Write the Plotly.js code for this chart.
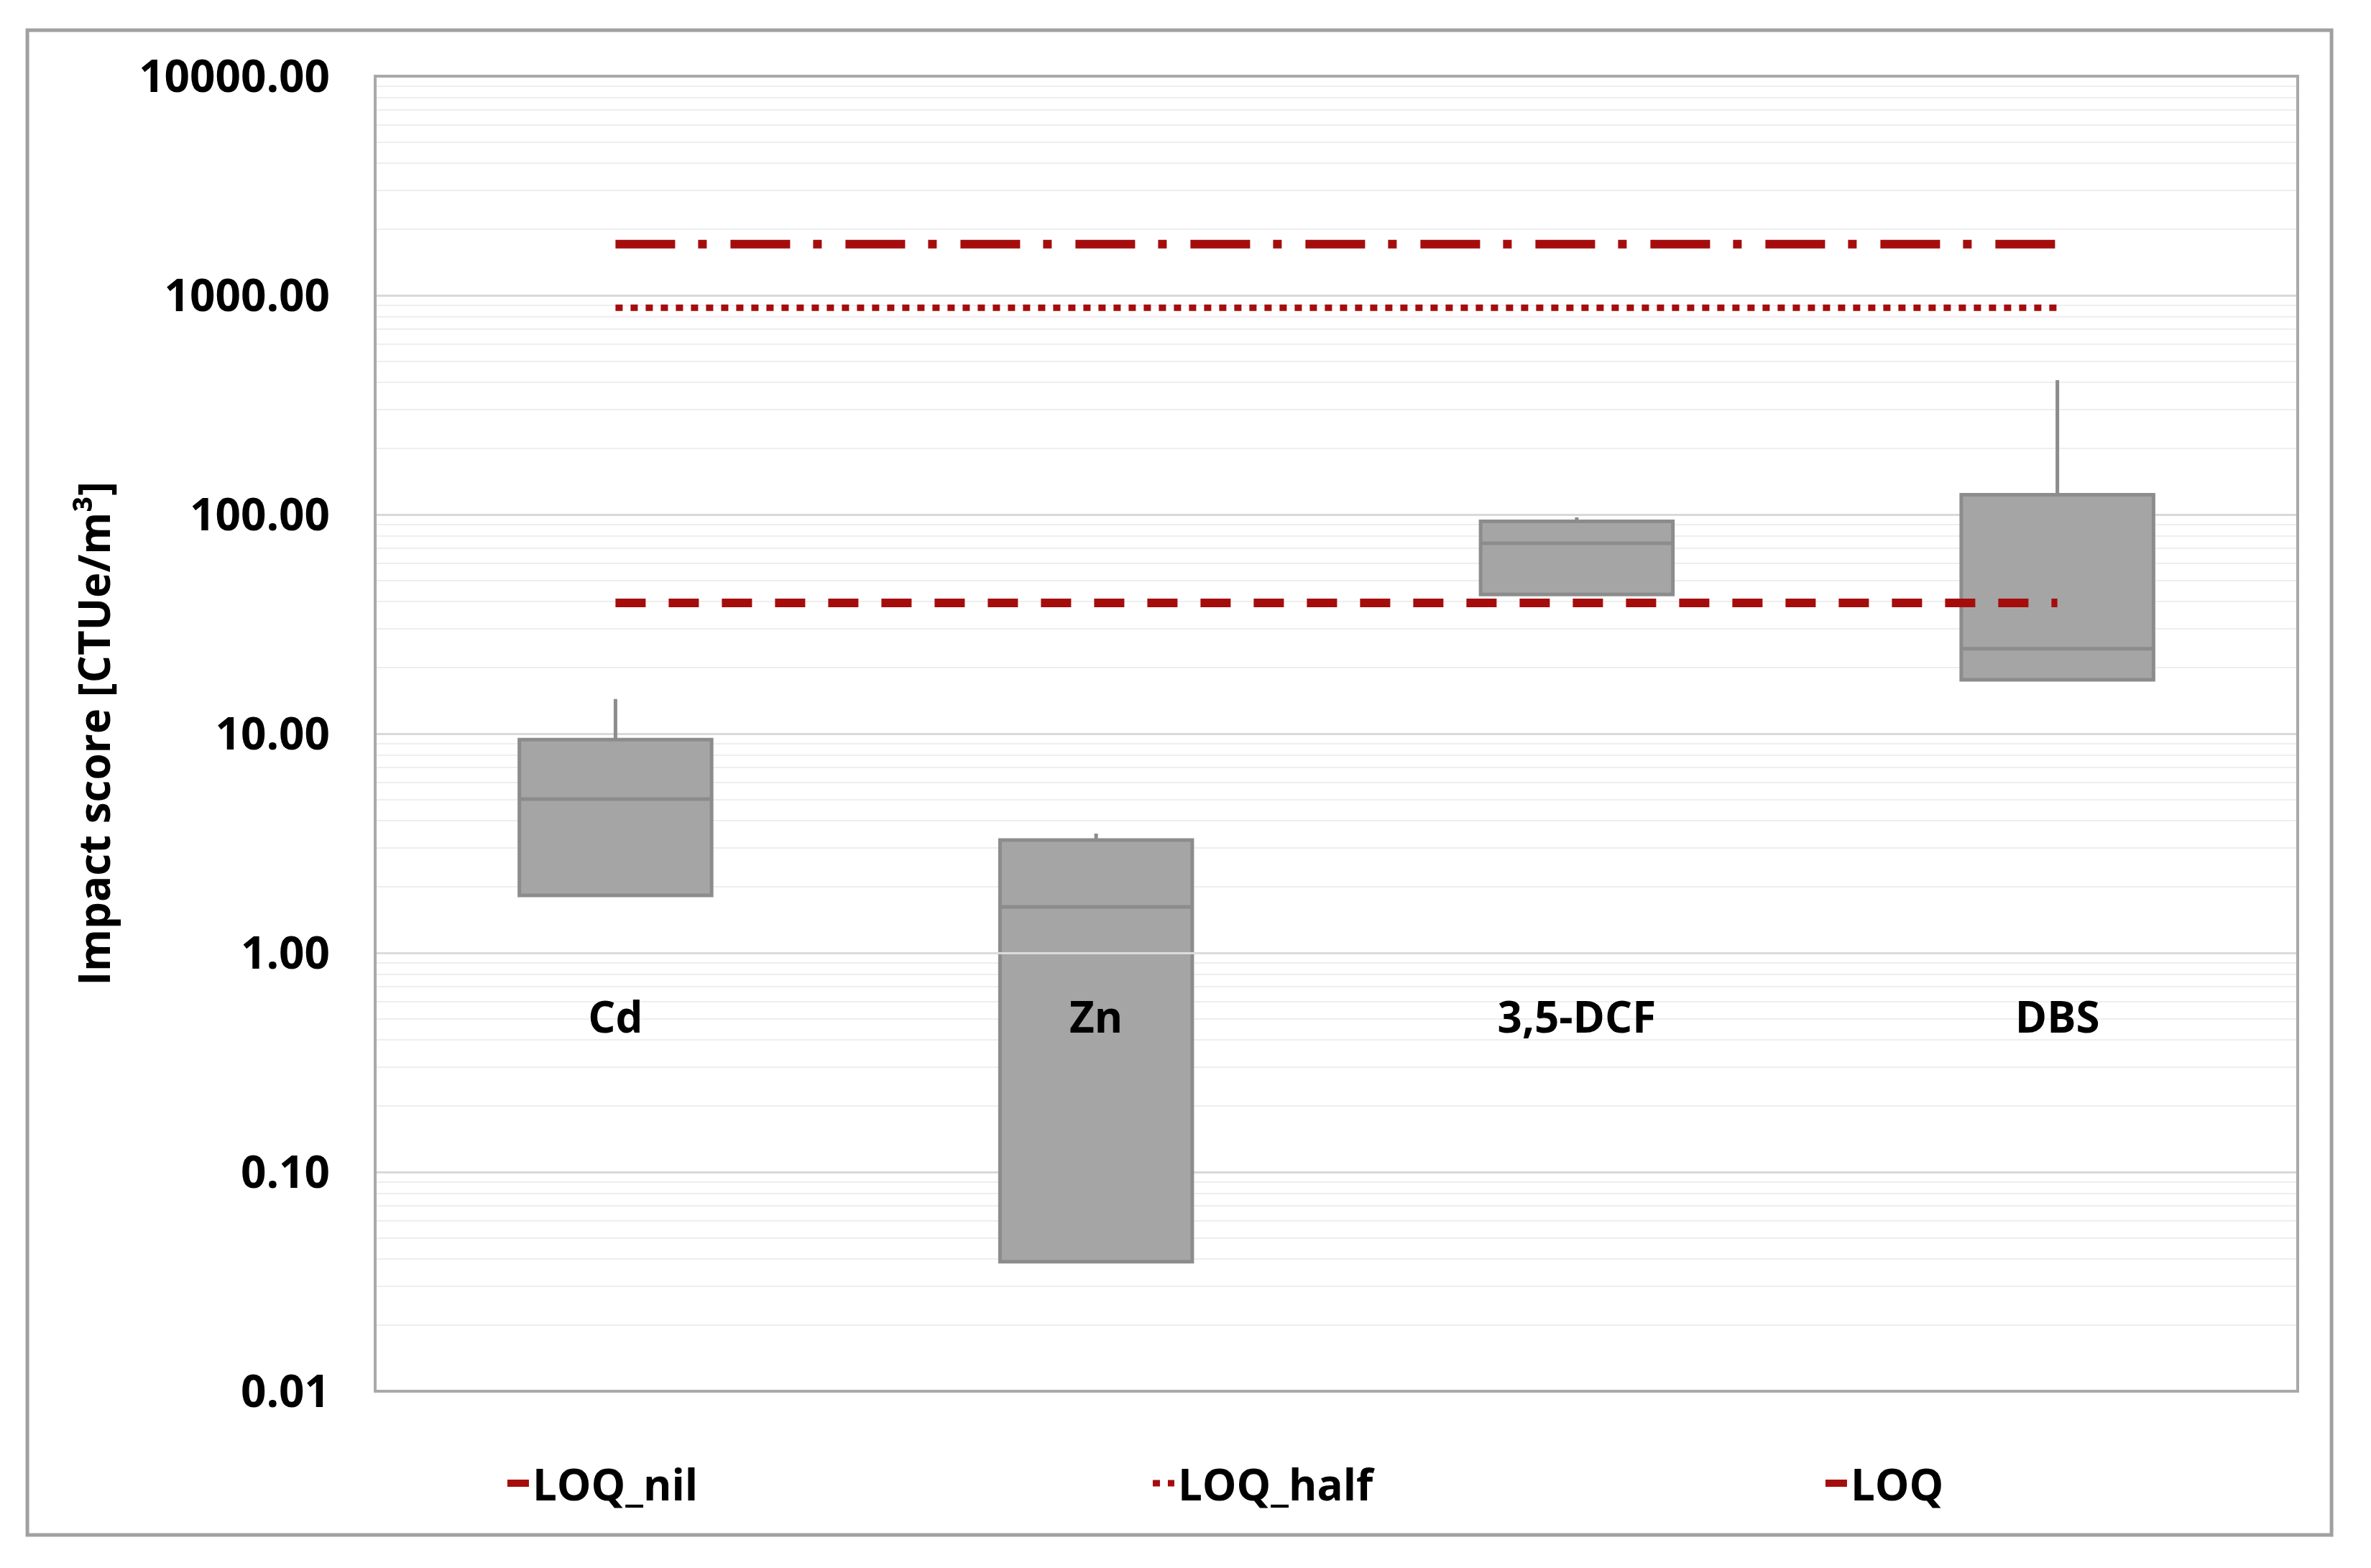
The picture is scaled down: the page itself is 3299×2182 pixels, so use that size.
<!DOCTYPE html>
<html>
<head>
<meta charset="utf-8">
<script src="https://cdn.plot.ly/plotly-3.0.1.min.js"></script>
<style>
  html, body { margin: 0; padding: 0; background: #ffffff; }
  #chart { width: 3299px; height: 2182px; }
</style>
</head>
<body>
<div id="chart"></div>
<script>
// ---- data ----
const categories = ['Cd', 'Zn', '3,5-DCF', 'DBS'];
const q1Values = [1.83, 0.039, 43.2, 17.6];
const medianValues = [5.03, 1.62, 74, 24.4];
const q3Values = [9.4, 3.27, 93, 123];
const lowerWhiskers = [1.83, 0.039, 43.2, 17.6];
const upperWhiskers = [14.4, 3.5, 97, 410];
const loqNilValues = [39.5, 39.5, 39.5, 39.5];
const loqHalfValues = [878, 878, 878, 878];
const loqValues = [1711, 1711, 1711, 1711];
const yTickValues = [0.01, 0.1, 1, 10, 100, 1000, 10000];
const seriesNames = ['LOQ_nil', 'LOQ_half', 'LOQ'];

const FONT = 'Open Sans, Noto Sans, DejaVu Sans, sans-serif';
const RED = '#a50d0d';

const traces = [
  {
    type: 'box',
    x: categories,
    q1: q1Values,
    median: medianValues,
    q3: q3Values,
    lowerfence: lowerWhiskers,
    upperfence: upperWhiskers,
    fillcolor: '#a5a5a5',
    line: { color: '#8c8c8c', width: 5 },
    whiskerwidth: 0,
    boxpoints: false,
    showlegend: false,
    hoverinfo: 'skip'
  },
  {
    type: 'scatter', mode: 'lines', name: seriesNames[0], legend: 'legend',
    x: categories, y: loqNilValues,
    line: { color: RED, width: 12, dash: '42px,32px' }
  },
  {
    type: 'scatter', mode: 'lines', name: seriesNames[1], legend: 'legend2',
    x: categories, y: loqHalfValues,
    line: { color: RED, width: 9, dash: '10px,11px' }
  },
  {
    type: 'scatter', mode: 'lines', name: seriesNames[2], legend: 'legend3',
    x: categories, y: loqValues,
    line: { color: RED, width: 12, dash: '83px,32px,12px,33px' }
  }
];

function legendAt(x) {
  return {
    orientation: 'h',
    x: x,
    xanchor: 'left',
    y: -0.07,
    yanchor: 'middle',
    itemwidth: 30,
    font: { family: FONT, size: 60, color: '#000000', weight: 700 },
    bgcolor: 'rgba(0,0,0,0)'
  };
}

const layout = {
  width: 3299,
  height: 2182,
  paper_bgcolor: '#ffffff',
  plot_bgcolor: '#ffffff',
  margin: { l: 522, r: 102, t: 106, b: 246, pad: 0 },
  font: { family: FONT, size: 60, color: '#000000', weight: 700 },
  showlegend: true,
  boxgap: 0.6,
  boxgroupgap: 0,
  xaxis: {
    type: 'category',
    categoryarray: categories,
    range: [-0.5, 3.5],
    anchor: 'free',
    position: 1 / 3,
    showline: true,
    linecolor: '#dcdcdc',
    linewidth: 3,
    layer: 'above traces',
    showgrid: false,
    zeroline: false,
    ticks: '',
    ticklabelstandoff: 37,
    tickfont: { family: FONT, size: 60, color: '#000000', weight: 700 },
    fixedrange: true
  },
  yaxis: {
    type: 'log',
    range: [-2, 4],
    tickmode: 'array',
    tickvals: yTickValues,
    tickformat: '.2f',
    showline: false,
    zeroline: false,
    showgrid: true,
    gridcolor: '#d9d9d9',
    gridwidth: 3,
    minor: { dtick: 'D1', showgrid: true, gridcolor: '#eeeeee', gridwidth: 2, ticks: '' },
    ticks: '',
    ticklabelstandoff: 62,
    tickfont: { family: FONT, size: 62, color: '#000000', weight: 700 },
    title: {
      text: 'Impact score [CTUe/m³]',
      font: { family: FONT, size: 60, color: '#000000', weight: 700 },
      standoff: 20
    },
    fixedrange: true
  },
  legend: legendAt(0.0669),
  legend2: legendAt(0.4026),
  legend3: legendAt(0.7525),
  shapes: [
    {
      type: 'rect', xref: 'paper', yref: 'paper',
      x0: 0, x1: 1, y0: 0, y1: 1,
      line: { color: '#a9a9a9', width: 4 }, fillcolor: 'rgba(0,0,0,0)', layer: 'above'
    },
    {
      type: 'rect', xref: 'paper', yref: 'paper',
      x0: -0.1809, x1: 1.0176, y0: -0.1093, y1: 1.035,
      line: { color: '#a0a0a0', width: 5 }, fillcolor: 'rgba(0,0,0,0)', layer: 'above'
    }
  ]
};

Plotly.newPlot('chart', traces, layout, { staticPlot: true, displayModeBar: false });
</script>
</body>
</html>
